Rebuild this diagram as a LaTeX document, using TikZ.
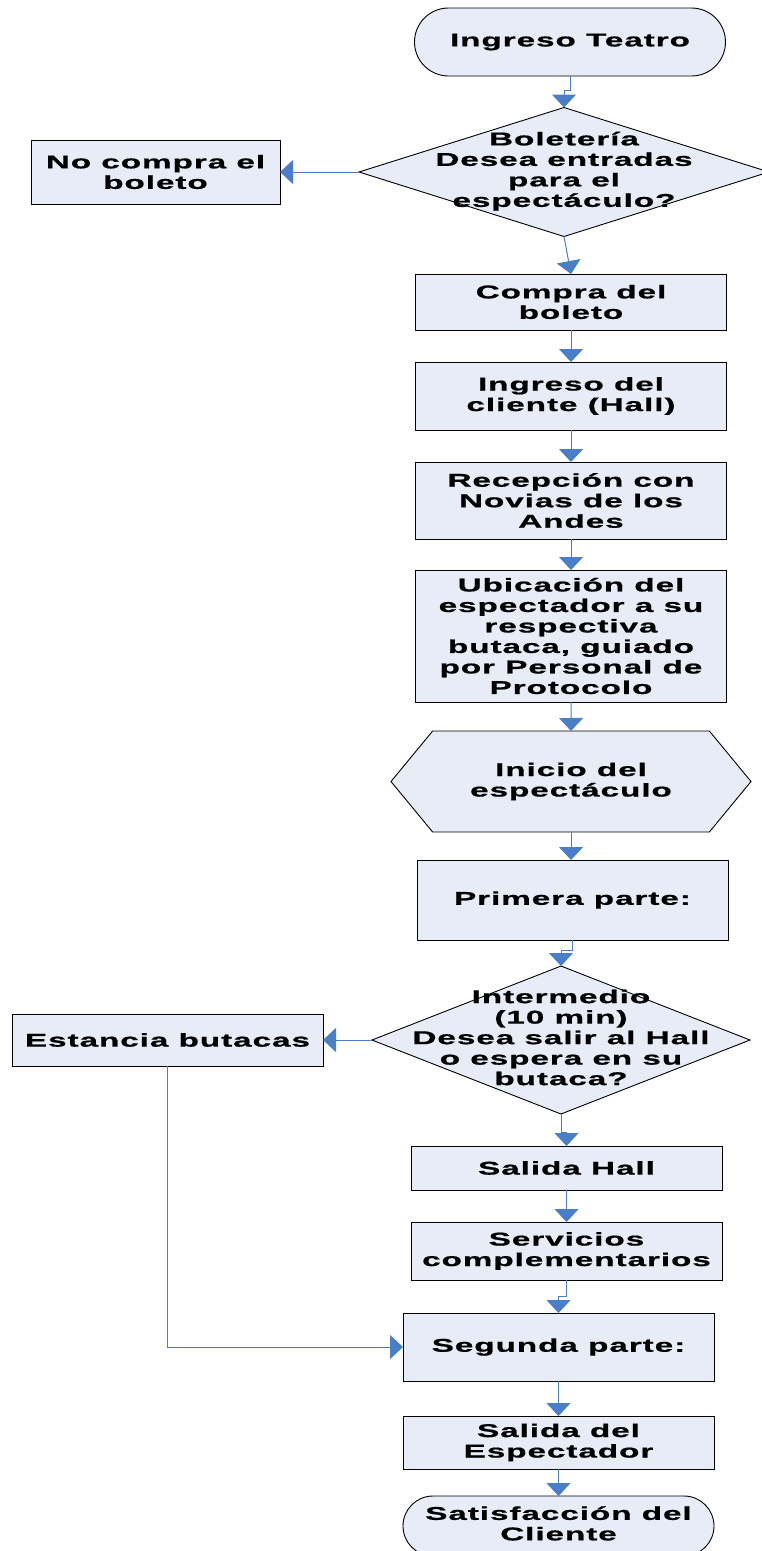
\documentclass[tikz,border=0pt]{standalone}
\usepackage{fontspec}
\setmainfont{Liberation Sans}[FakeStretch=1.8, LetterSpace=5, BoldFeatures={FakeBold=0.8}]
\definecolor{boxfill}{RGB}{231,236,247}
\definecolor{linkblue}{RGB}{74,126,198}
\usetikzlibrary{arrows.meta, shapes.geometric, shapes.symbols}
\newcommand{\dtext}[1]{\makebox[0pt]{\begin{tabular}{@{}c@{}}#1\end{tabular}}}

\begin{document}
\begin{tikzpicture}[
  x=1pt, y=-1pt,
  box/.style={draw=black, fill=boxfill, line width=0.9pt, inner sep=0pt,
    outer sep=0pt, align=center, minimum width=311pt,
    font=\fontsize{18.5}{20.5}\selectfont\bfseries},
  term/.style={box, rounded corners=#1},
  dec/.style={box, shape=diamond},
  hexa/.style={box, shape=signal, signal to=west and east, signal pointer angle=101},
  arw/.style={-{Triangle[width=24pt,length=13pt]}, linkblue, line width=1pt},
]
\useasboundingbox (0,0) rectangle (761,1551);
\node[term=34pt, minimum height=68pt] (teatro) at (570,42) {Ingreso Teatro};
\node[dec, minimum width=410pt, minimum height=129pt] (boleteria) at (564,172)
  {\dtext{Boletería\\Desea entradas\\para el\\espectáculo?}};
\node[box, minimum width=249pt, minimum height=64pt] (nocompra) at (155.5,172) {No compra el\\boleto};
\node[box, minimum height=56pt] (compra) at (571,302) {Compra del\\boleto};
\node[box, minimum height=68pt] (ingreso) at (571,396) {Ingreso del\\cliente (Hall)};
\node[box, minimum height=77pt] (recepcion) at (571,500.5) {Recepción con\\Novias de los\\Andes};
\node[box, minimum height=132pt] (ubicacion) at (571,636)
  {Ubicación del\\espectador a su\\respectiva\\butaca, guiado\\por Personal de\\Protocolo};
\node[hexa, minimum width=360pt, minimum height=101pt] (inicio) at (571,781.5) {Inicio del\\espectáculo};
\node[box, minimum height=80pt] (primera) at (572.5,900) {Primera parte:};
\node[dec, minimum width=378pt, minimum height=148pt] (intermedio) at (561,1040)
  {\dtext{Intermedio\\(10 min)\\Desea salir al Hall\\o espera en su\\butaca?}};
\node[box, minimum height=52pt] (estancia) at (167.5,1040) {Estancia butacas};
\node[box, minimum height=44pt] (salidahall) at (566.5,1168) {Salida Hall};
\node[box, minimum height=58pt] (servicios) at (566.5,1251) {Servicios\\complementarios};
\node[box, minimum height=68pt] (segunda) at (558.5,1347) {Segunda parte:};
\node[box, minimum height=53pt] (salidaesp) at (558.5,1442.5) {Salida del\\Espectador};
\node[term=30pt, minimum height=60pt] (satisf) at (558.5,1526) {\dtext{Satisfacción del\\Cliente}};
\draw[arw] (teatro.south) -- ++(0,14) -| (boleteria.north);
\draw[arw] (boleteria.west) -- (nocompra.east);
\draw[arw] (boleteria.south) -- (compra.north);
\draw[arw] (compra) -- (ingreso);
\draw[arw] (ingreso) -- (recepcion);
\draw[arw] (recepcion) -- (ubicacion);
\draw[arw] (ubicacion) -- (inicio);
\draw[arw] (inicio.south) -- (inicio.south |- primera.north);
\draw[arw] (primera.south) -- ++(0,10) -| (intermedio.north);
\draw[arw] (intermedio.west) -- (estancia.east);
\draw[arw] (intermedio.south) -- ++(0,18) -| (salidahall.north);
\draw[arw] (salidahall) -- (servicios);
\draw[arw] (servicios.south) -- ++(0,16) -| (segunda.north);
\draw[arw] (estancia.south) |- (segunda.west);
\draw[arw] (segunda) -- (salidaesp);
\draw[arw] (salidaesp) -- (satisf);
\end{tikzpicture}
\end{document}
